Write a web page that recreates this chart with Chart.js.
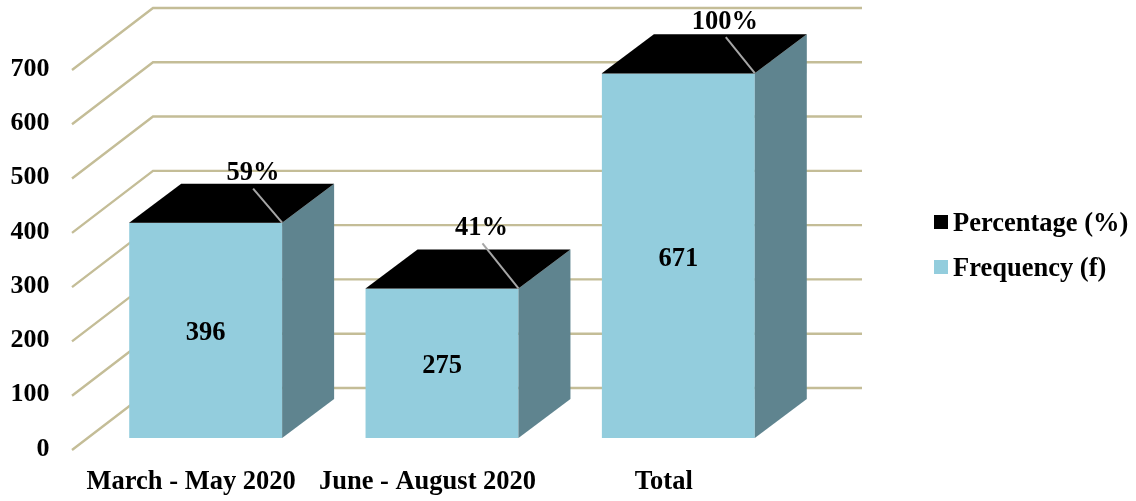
<!DOCTYPE html>
<html>
<head>
<meta charset="utf-8">
<style>html,body{margin:0;padding:0;background:#fff}canvas{display:block}</style>
<script src="https://cdn.jsdelivr.net/npm/chart.js@4"></script>
</head>
<body>
<canvas id="c" width="1136" height="501"></canvas>
<script>
const categories = ["March - May 2020", "June - August 2020", "Total"];
const frequency = [396, 275, 671];
const percentage = [0.59, 0.41, 1];
const yTicks = [0, 100, 200, 300, 400, 500, 600, 700];

const FONT = '"Liberation Serif"';
const BLUE = '#93cddd', SIDE = '#5f848f', GRID = '#c4bd97', LEADER = '#a6a6a6';
const leaderTips = [[-29, -34], [-36, -45], [-29, -36]];
const labelSpots = [[-29, -50], [-37, -60], [-30, -51]];

const scene3d = {
  id: 'scene3d',
  beforeDatasetsDraw(chart) {
    const y = chart.scales.y, a = chart.chartArea, c = chart.ctx;
    c.save();
    c.strokeStyle = GRID; c.lineWidth = 2.4; c.lineJoin = 'miter';
    yTicks.forEach(v => {
      const p = y.getPixelForValue(v);
      c.beginPath();
      c.moveTo(a.left - 15.5, p + 12);
      c.lineTo(a.left + 65.5, p - 50);
      c.lineTo(a.left + 774.5, p - 50);
      c.stroke();
    });
    c.restore();
  },
  afterDatasetsDraw(chart) {
    const c = chart.ctx;
    const freq = chart.getDatasetMeta(0).data;
    const pct = chart.getDatasetMeta(1).data;
    const dx = 52, dy = -39;
    c.save();
    freq.forEach((el, i) => {
      const L = el.x - el.width / 2, R = el.x + el.width / 2;
      const T = pct[i].y, B = el.base;
      c.fillStyle = SIDE;
      c.beginPath();
      c.moveTo(R, T); c.lineTo(R + dx, T + dy); c.lineTo(R + dx, B + dy); c.lineTo(R, B);
      c.closePath(); c.fill();
      c.fillStyle = '#000';
      c.beginPath();
      c.moveTo(L, T); c.lineTo(L + dx, T + dy); c.lineTo(R + dx, T + dy); c.lineTo(R, T);
      c.closePath(); c.fill();
      c.strokeStyle = LEADER; c.lineWidth = 2;
      c.beginPath();
      c.moveTo(R, T); c.lineTo(R + leaderTips[i][0], T + leaderTips[i][1]);
      c.stroke();
      c.fillStyle = '#000';
      c.font = 'bold 26.5px ' + FONT;
      c.textAlign = 'center'; c.textBaseline = 'middle';
      c.fillText(frequency[i], el.x, (el.y + B) / 2 + 3);
      c.fillText(Math.round(percentage[i] * 100) + '%', R + labelSpots[i][0], T + labelSpots[i][1]);
    });
    // legend, built from the datasets (last series first)
    const order = [1, 0], rowY = [222, 267];
    order.forEach((d, i) => {
      const ds = chart.data.datasets[d];
      c.fillStyle = ds.backgroundColor;
      c.fillRect(934, rowY[i] - 7, 14, 14);
      c.fillStyle = '#000';
      c.font = 'bold 26.5px ' + FONT;
      c.textAlign = 'left'; c.textBaseline = 'middle';
      c.fillText(ds.label, 953, rowY[i] + 2);
    });
    c.restore();
  }
};

new Chart(document.getElementById('c'), {
  type: 'bar',
  data: {
    labels: categories,
    datasets: [
      { label: 'Frequency (f)', data: frequency, backgroundColor: BLUE, categoryPercentage: 1, barPercentage: 0.647 },
      { label: 'Percentage (%)', data: percentage, backgroundColor: '#000000', categoryPercentage: 1, barPercentage: 0.647 }
    ]
  },
  options: {
    responsive: false,
    animation: false,
    devicePixelRatio: 1,
    layout: { padding: { top: 8, left: 0, right: 339.5, bottom: 0 } },
    plugins: { legend: { display: false }, tooltip: { enabled: false } },
    scales: {
      x: {
        stacked: true,
        grid: { display: false },
        border: { display: false },
        ticks: {
          color: '#000', font: { family: FONT, weight: 'bold', size: 26.5 },
          labelOffset: -14.5, padding: 8, maxRotation: 0, autoSkip: false
        },
        afterFit(s) { s.height = 51; }
      },
      y: {
        stacked: true,
        min: -22.1, max: 792,
        grid: { display: false },
        border: { display: false },
        afterBuildTicks(s) { s.ticks = yTicks.map(value => ({ value })); },
        ticks: {
          color: '#000', font: { family: FONT, weight: 'bold', size: 26 },
          labelOffset: 11, padding: 30
        },
        afterFit(s) { s.width = 87.5; s.paddingTop = 0; s.paddingBottom = 0; }
      }
    }
  },
  plugins: [scene3d]
});
</script>
</body>
</html>
